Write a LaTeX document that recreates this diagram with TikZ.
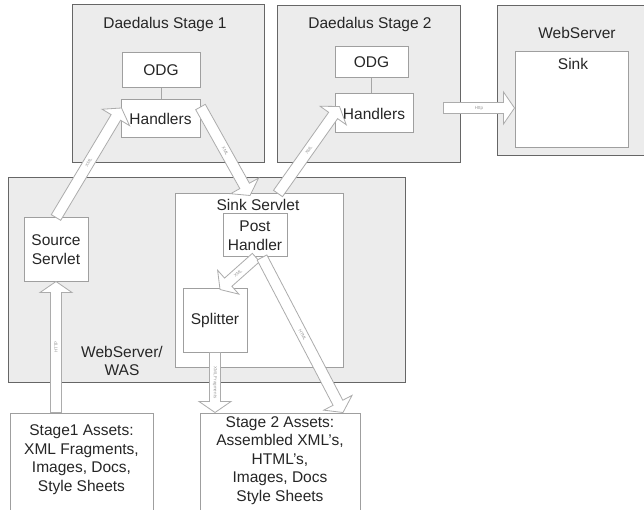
\documentclass[tikz,border=0pt]{standalone}
\usepackage{fontspec}
\setmainfont{Liberation Sans}
\usetikzlibrary{calc}
\tikzset{
 outerbox/.style={draw=black!60, line width=1pt, fill=gray!15, inner sep=0pt},
 whitebox/.style={draw=gray!75, line width=1pt, fill=white, inner sep=0pt},
 txt/.style={font=\fontsize{15.5}{18.5}\selectfont, align=center, inner sep=0pt, text=black!85},
 fatarr/.style={draw=gray!65, line width=0.8pt, fill=white, line join=miter},
 lbl/.style={font=\fontsize{4.5}{5}\selectfont, text=gray!80, inner sep=0pt},
 link/.style={draw=gray!70, line width=1pt},
}
\newcommand\fatarrow[3]{%
 \coordinate (fac) at ($(#2)!11pt!(#1)$);
 \draw[fatarr] ($(#1)!5.5pt!90:(#2)$) -- ($(fac)!5.5pt!90:(#2)$) -- ($(fac)!16pt!90:(#2)$) -- (#2) -- ($(fac)!16pt!-90:(#2)$) -- ($(fac)!5.5pt!-90:(#2)$) -- ($(#1)!5.5pt!-90:(#2)$) -- cycle;
 \path (#1) -- (#2) node[midway, sloped, lbl]{#3};}
\begin{document}
\begin{tikzpicture}[x=1pt,y=-1pt]
\useasboundingbox (0,0) rectangle (644,510);
% outer boxes
\node[outerbox, minimum width=192pt, minimum height=158pt] (st1) at (168,84) {};
\node[outerbox, minimum width=183pt, minimum height=157pt] (st2) at (368.5,84.5) {};
\node[outerbox, minimum width=153pt, minimum height=150pt] (ws) at (573.5,81) {};
\node[outerbox, minimum width=397pt, minimum height=204pt] (was) at (206.5,280) {};
% titles
\node[txt] (t1) at (165,24) {Daedalus Stage 1};
\node[txt] (t2) at (370,24) {Daedalus Stage 2};
\node[txt] (t3) at (577,33) {WebServer};
\node[txt] (t4) at (122,361) {WebServer/\\WAS};
% white boxes
\node[whitebox, txt, minimum width=78pt, minimum height=35pt] (odg1) at (161,70.5) {ODG};
\node[whitebox, txt, minimum width=79pt, minimum height=38pt] (h1) at (160.5,119) {Handlers};
\node[whitebox, txt, minimum width=73pt, minimum height=31pt] (odg2) at (371.5,62.5) {ODG};
\node[whitebox, txt, minimum width=78pt, minimum height=39pt] (h2) at (374,113.5) {Handlers};
\node[whitebox, minimum width=113pt, minimum height=96pt] (sink) at (571.5,100) {};
\node[txt] (sinkt) at (573,64) {Sink};
\node[whitebox, txt, minimum width=64pt, minimum height=63pt] (srcsv) at (56,249.5) {Source\\Servlet};
\node[whitebox, minimum width=168pt, minimum height=173pt] (sinksv) at (259,280.5) {};
\node[txt] (sinksvt) at (258,205) {Sink Servlet};
\node[whitebox, txt, minimum width=64pt, minimum height=43pt] (post) at (255,235.5) {Post\\Handler};
\node[whitebox, txt, minimum width=64pt, minimum height=64pt] (split) at (215,320) {Splitter};
\node[whitebox, minimum width=143pt, minimum height=107pt] (a1box) at (81.5,466.5) {};
\node[txt] (a1t) at (81.5,459.5) {Stage1 Assets:\\XML Fragments,\\Images, Docs,\\Style Sheets};
\node[whitebox, minimum width=160pt, minimum height=107pt] (a2box) at (280,466.5) {};
\node[txt] (a2t) at (280,460.5) {Stage 2 Assets:\\Assembled XML's,\\HTML's,\\Images, Docs\\Style Sheets};
% links
\draw[link] (odg1.south) -- (odg1.south |- h1.north);
\draw[link] (odg2.south) -- (odg2.south |- h2.north);
% arrows
\coordinate (a1s) at (srcsv.north);
\coordinate (a1e) at ([shift={(1,-11)}]h1.west);
\fatarrow{a1s}{a1e}{XML}
\coordinate (a2s) at ([shift={(0,-12)}]h1.east);
\coordinate (a2e) at ([shift={(-9,2)}]sinksv.north);
\fatarrow{a2s}{a2e}{XML}
\coordinate (a3s) at ([shift={(19,0)}]sinksv.north);
\coordinate (a3e) at ([shift={(5,-7)}]h2.west);
\fatarrow{a3s}{a3e}{XML}
\coordinate (hs) at ([shift={(30,-5.5)}]h2.east);
\coordinate (he) at ([shift={(0,8)}]sink.west);
\fatarrow{hs}{he}{Http}
\coordinate (a4s) at (srcsv.south |- a1box.north);
\coordinate (a4e) at (srcsv.south);
\fatarrow{a4s}{a4e}{HTTP}
\coordinate (a5s) at ([shift={(1,0)}]post.south);
\coordinate (a5e) at ([shift={(5,2)}]split.north);
\fatarrow{a5s}{a5e}{XML}
\coordinate (a6s) at ([shift={(7,0)}]post.south);
\coordinate (a6e) at ([shift={(63,0)}]a2box.north);
\fatarrow{a6s}{a6e}{HTML}
\coordinate (a7s) at (split.south);
\coordinate (a7e) at (split.south |- a2box.north);
\fatarrow{a7s}{a7e}{XML Fragments}
\end{tikzpicture}
\end{document}
